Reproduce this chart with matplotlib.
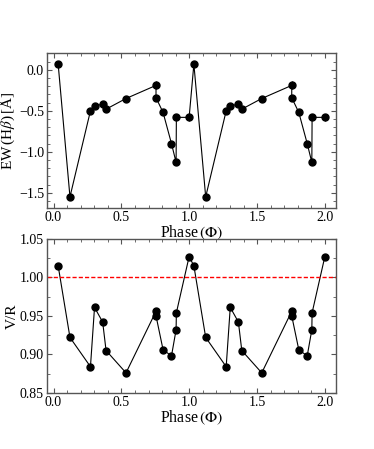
import matplotlib
matplotlib.use("Agg")
import matplotlib.pyplot as plt
from matplotlib.ticker import MultipleLocator, FuncFormatter

plt.rcParams['font.family'] = ['Liberation Serif', 'DejaVu Serif']
plt.rcParams['mathtext.fontset'] = 'stix'

# one cycle of data (phase, EW, V/R); plotted twice (phase and phase+1)
phase_cycle = [0.034, 0.121, 0.272, 0.302, 0.362, 0.387, 0.534, 0.755, 0.755,
               0.807, 0.869, 0.903, 0.905, 0.999]
ew_cycle = [0.07, -1.55, -0.50, -0.44, -0.42, -0.48, -0.35, -0.19, -0.34,
            -0.52, -0.90, -1.13, -0.58, -0.58]
ew_err_cycle = [0.02, 0.04, 0.02, 0.04, 0.03, 0.02, 0.02, 0.05, 0.02,
                0.02, 0.02, 0.02, 0.02, 0.04]
vr_cycle = [1.015, 0.922, 0.884, 0.961, 0.942, 0.905, 0.876, 0.956, 0.950,
            0.906, 0.898, 0.932, 0.954, 1.027]

phase = phase_cycle + [p + 1 for p in phase_cycle]
ew = ew_cycle + ew_cycle
ew_err = ew_err_cycle + ew_err_cycle
vr = vr_cycle + vr_cycle

fig = plt.figure(figsize=(3.74, 4.49), dpi=100)
ax1 = fig.add_axes([0.125, 0.536, 0.773, 0.345])
ax2 = fig.add_axes([0.125, 0.125, 0.773, 0.343])


def fmt(decimals):
    def f(v, pos):
        s = f'{v:.{decimals}f}'
        return s.replace('-', '\u2212')
    return FuncFormatter(f)


spine_col = '#555555'
for ax in (ax1, ax2):
    ax.tick_params(which='both', direction='in', top=True, right=True,
                   labelsize=10, color=spine_col, pad=2)
    ax.tick_params(which='major', length=3.5, width=0.8)
    ax.tick_params(which='minor', length=2, width=0.6)
    for s in ax.spines.values():
        s.set_color(spine_col)
        s.set_linewidth(1.0)
    ax.set_xlim(-0.05, 2.08)
    ax.xaxis.set_major_locator(MultipleLocator(0.5))
    ax.xaxis.set_minor_locator(MultipleLocator(0.1))
    ax.xaxis.set_major_formatter(fmt(1))
    ax.set_xlabel(r'Phase$\,(\Phi)$', fontsize=11.5, labelpad=0)

ax1.errorbar(phase, ew, yerr=ew_err, color='black', lw=0.8, marker='o',
             ms=5, elinewidth=0.8, capsize=0)
ax1.set_ylim(-1.69, 0.2)
ax1.yaxis.set_major_locator(MultipleLocator(0.5))
ax1.yaxis.set_minor_locator(MultipleLocator(0.1))
ax1.yaxis.set_major_formatter(fmt(1))
ax1.set_ylabel(r'EW$\,$(H$\beta$)$\,$[Å]', fontsize=11, labelpad=1)

ax2.plot(phase, vr, color='black', lw=0.8, marker='o', ms=5)
ax2.axhline(1.0, color='#ff0000', lw=1.0, ls=(0, (3, 1.5)))
ax2.set_ylim(0.85, 1.05)
ax2.yaxis.set_major_locator(MultipleLocator(0.05))
ax2.yaxis.set_minor_locator(MultipleLocator(0.025))
ax2.yaxis.set_major_formatter(fmt(2))
ax2.set_ylabel('V/R', fontsize=11, labelpad=1)

fig.savefig('out.png', dpi=100)
